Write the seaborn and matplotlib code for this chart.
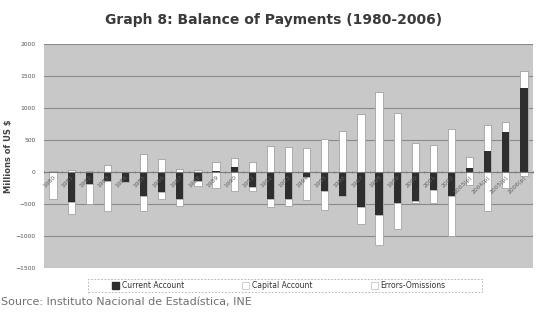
import numpy as np
import pandas as pd
import seaborn as sns
import matplotlib.pyplot as plt
from matplotlib.patches import Patch, Rectangle
from matplotlib.transforms import ScaledTranslation

# data (millions of US $)
years = ['1980', '1981', '1982', '1983', '1984', '1985', '1986', '1987', '1988',
         '1989', '1990', '1991', '1992', '1993', '1994', '1995', '1996', '1997',
         '1998', '1999', '2000', '2001', '2002', '2003(p)', '2004(p)', '2005(p)',
         '2006(p)']
current_account = [0, -465, -180, -145, -150, -380, -305, -420, -145, 20, 80, -235,
                   -425, -415, -85, -300, -375, -550, -670, -490, -450, -285, -370,
                   70, 325, 625, 1320]
capital_account = [20, 35, 20, 105, 5, 275, 200, 40, 30, 130, 140, 155, 400, 390,
                   375, 520, 635, 900, 1250, 915, 450, 425, 675, 170, 410, 155, 260]
errors_omissions = [-415, -195, -320, -470, 0, -230, -120, -115, -75, -250, -295, -65,
                    -120, -110, -360, -290, 0, -260, -470, -400, -35, -200, -630, -200,
                    -615, -250, -60]
legend_labels = ['Current Account', 'Capital Account', 'Errors-Omissions']


def main():
    sns.set_theme(style="white")
    plt.rcParams['font.family'] = ['DejaVu Sans']

    df = pd.DataFrame({'year': years, 'cur': current_account,
                       'cap': capital_account, 'err': errors_omissions})
    pos = df[['cur', 'cap', 'err']].clip(lower=0)
    neg = df[['cur', 'cap', 'err']].clip(upper=0)
    # stacked like excel: positives up, negatives down, drawn outer layer first
    df['pos_all'] = pos.sum(axis=1)
    df['pos_mid'] = pos['cur'] + pos['cap']
    df['pos_cur'] = pos['cur']
    df['neg_all'] = neg.sum(axis=1)
    df['neg_mid'] = neg['cur'] + neg['cap']
    df['neg_cur'] = neg['cur']

    fig = plt.figure(figsize=(5.4, 3.22), dpi=100)
    ax = fig.add_axes([44 / 540, 1 - 268 / 322, 489 / 540, 224 / 322])
    ax.set_facecolor('#c8c8c8')

    # gridlines behind the bars, tick labels on top
    for yv in range(-1500, 2001, 500):
        if yv != 0:
            ax.axhline(yv, color='#8a8a8a', linewidth=0.8, zorder=0.5)

    layers = [('pos_all', 'white', '#9a9a9a', 0.5), ('pos_mid', 'white', '#9a9a9a', 0.5),
              ('pos_cur', '#2e2e2e', '#2e2e2e', 0),
              ('neg_all', 'white', '#9a9a9a', 0.5), ('neg_mid', 'white', '#9a9a9a', 0.5),
              ('neg_cur', '#2e2e2e', '#2e2e2e', 0)]
    for col, fc, ec, lw in layers:
        sns.barplot(data=df, x='year', y=col, order=years, color=fc, saturation=1,
                    edgecolor=ec, linewidth=lw, width=0.4, errorbar=None, ax=ax)

    ax.set_ylim(-1500, 2000)
    ax.set_yticks(range(-1500, 2001, 500))
    for s in ['top', 'right', 'left']:
        ax.spines[s].set_visible(False)
    ax.spines['bottom'].set_position(('data', 0))
    ax.spines['bottom'].set_color('#7a7a7a')
    ax.spines['bottom'].set_linewidth(0.8)
    ax.set_axisbelow(False)

    ax.set_xticks(range(len(years)))
    ax.set_xticklabels(years, rotation=45, ha='right', rotation_mode='anchor',
                       fontsize=4.3, color='#606060')
    offset = ScaledTranslation(-7 / 100, -1 / 100, fig.dpi_scale_trans)
    for lab in ax.get_xticklabels():
        lab.set_transform(lab.get_transform() + offset)
    ax.set_xticks(np.arange(-0.5, len(years), 1), minor=True)
    ax.tick_params(axis='x', which='major', length=0, pad=2)
    ax.tick_params(axis='x', which='minor', length=2, direction='inout',
                   color='#7a7a7a', width=0.6, bottom=True)
    ax.tick_params(axis='y', length=0, pad=6, labelsize=4.3, labelcolor='#555555')

    ax.set_xlabel('')
    ax.set_ylabel('Millions of US $', fontsize=6, fontweight='bold', color='#444444')
    ax.yaxis.set_label_coords(-0.063, 0.5)

    fig.text(0.507, 0.938, 'Graph 8: Balance of Payments (1980-2006)', ha='center',
             va='center', fontsize=10, fontweight='bold', color='#3a3a3a')
    fig.text(0.002, 0.062, 'Source: Instituto Nacional de Estadística, INE',
             ha='left', va='center', fontsize=8, color='#707070')

    # legend box with dashed border
    fig.patches.append(Rectangle((88 / 540, 1 - 292 / 322), 394 / 540, 13 / 322,
                                 transform=fig.transFigure, fill=False,
                                 edgecolor='#aaaaaa', linewidth=0.6,
                                 linestyle=(0, (2, 2))))
    handles = [Patch(facecolor='#2e2e2e', edgecolor='#2e2e2e'),
               Patch(facecolor='white', edgecolor='#bbbbbb', linewidth=0.5),
               Patch(facecolor='white', edgecolor='#bbbbbb', linewidth=0.5)]
    fig.legend(handles, legend_labels, loc='center left',
               bbox_to_anchor=(112 / 540, 1 - 285.5 / 322), ncol=3, frameon=False,
               fontsize=5.5, handlelength=0.9, handleheight=0.9, handletextpad=0.4,
               columnspacing=7.6, borderpad=0, borderaxespad=0, labelcolor='#333333')

    fig.savefig('out.png', dpi=100)


if __name__ == "__main__":
    main()
